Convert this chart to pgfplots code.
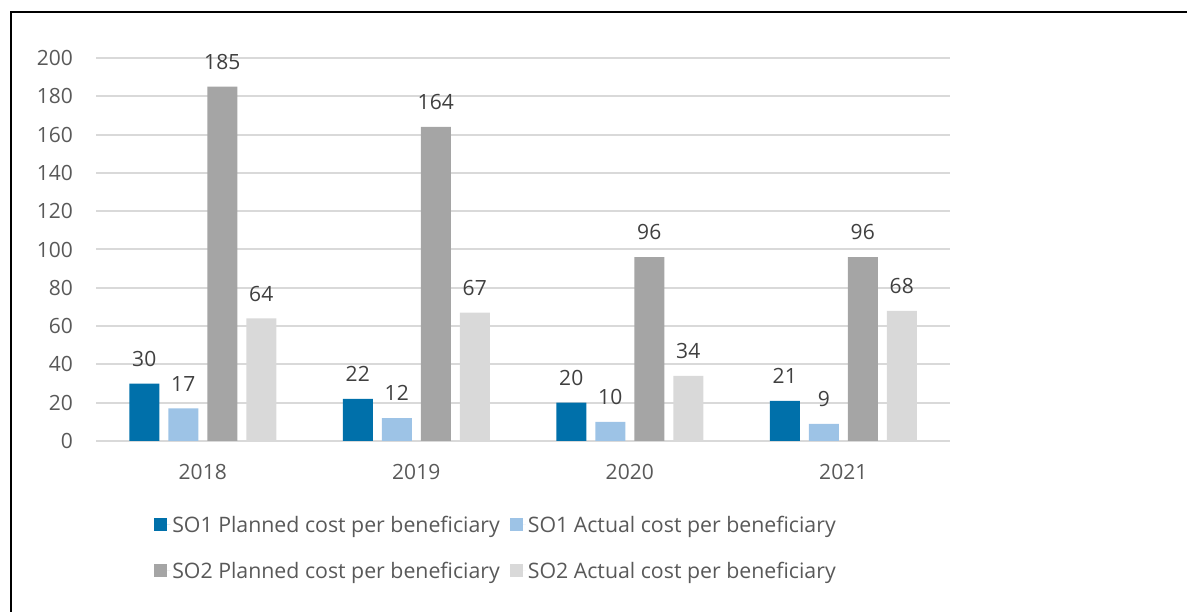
\documentclass[border=0pt]{standalone}
\usepackage{fontspec}
\setmainfont{Open Sans}
\usepackage{pgfplots}
\pgfplotsset{compat=1.18}
\definecolor{cA}{HTML}{0070AA}
\definecolor{cB}{HTML}{9DC3E6}
\definecolor{cC}{HTML}{A5A5A5}
\definecolor{cD}{HTML}{D9D9D9}
\definecolor{tgray}{HTML}{595959}
\definecolor{lgray}{HTML}{404040}
\begin{document}
\begin{tikzpicture}[x=1pt,y=1pt]
\path[use as bounding box] (0,0) rectangle (1187,612);
\draw[line width=2.5pt] (11,-2) -- (11,600) -- (1189,600);
\begin{axis}[
  at={(96pt,171pt)}, anchor=south west,
  width=854pt, height=383pt, scale only axis,
  xmin=-0.5, xmax=3.5, ymin=0, ymax=200,
  ytick={0,20,...,200},
  xtick={0,1,2,3}, xticklabels={2018,2019,2020,2021},
  axis line style={draw=none},
  major tick length=0pt,
  ymajorgrids, major grid style={draw=cD, line width=2pt},
  /pgf/number format/assume math mode=true,
  ticklabel style={font=\fontsize{21}{25}\selectfont, text=tgray, inner sep=0pt},
  yticklabel style={xshift=-23pt},
  xticklabel style={yshift=-23pt},
  ybar, bar width=30pt,
  nodes near coords,
  every node near coord/.append style={font=\fontsize{21}{25}\selectfont, text=lgray, inner sep=0pt, yshift=17pt},
  legend columns=2,
  legend style={draw=none, at={(0.068,-0.19)}, anchor=north west, inner sep=0pt,
    font=\fontsize{21.3}{25}\selectfont, text=tgray,
    /tikz/every even column/.append style={column sep=8pt},
    row sep=24pt},
  legend image code/.code={\fill[#1] (0pt,-6.5pt) rectangle (13pt,6.5pt); \path (0pt,0pt) -- (16pt,0pt);},
  legend cell align=left,
]
\addplot[fill=cA, draw=none, bar shift=-58.5pt] coordinates {(0,30) (1,22) (2,20) (3,21)};
\addplot[fill=cB, draw=none, bar shift=-19.5pt] coordinates {(0,17) (1,12) (2,10) (3,9)};
\addplot[fill=cC, draw=none, bar shift=19.5pt] coordinates {(0,185) (1,164) (2,96) (3,96)};
\addplot[fill=cD, draw=none, bar shift=58.5pt] coordinates {(0,64) (1,67) (2,34) (3,68)};
\legend{SO1 Planned cost per beneficiary, SO1 Actual cost per beneficiary, SO2 Planned cost per beneficiary, SO2 Actual cost per beneficiary}
\end{axis}
\end{tikzpicture}
\end{document}
